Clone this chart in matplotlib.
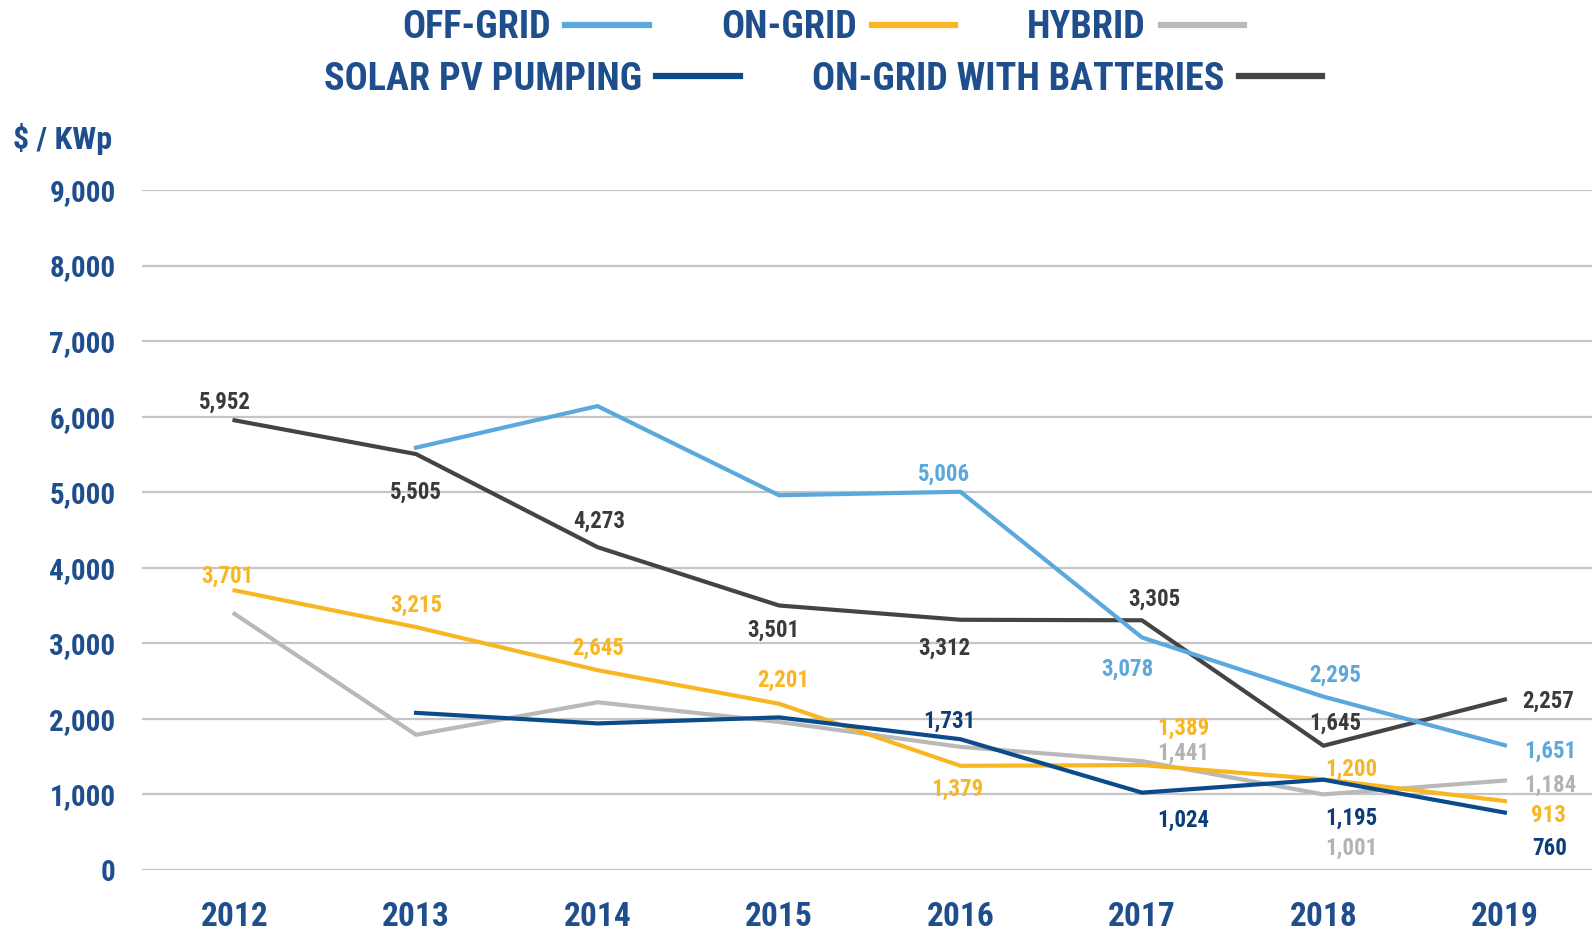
import matplotlib
matplotlib.use('Agg')
import matplotlib.pyplot as plt
from matplotlib import font_manager

# condensed bold face if one is there, else plain DejaVu
names = set(f.name for f in font_manager.fontManager.ttflist)
FONT = 'DejaVu Sans'
for cand in ['Roboto Condensed', 'Liberation Sans Narrow', 'Open Sans Condensed']:
    if cand in names:
        FONT = cand
        break
plt.rcParams['font.family'] = [FONT, 'DejaVu Sans']
plt.rcParams['font.weight'] = 'bold'
plt.rcParams['font.stretch'] = 'condensed'

years = ['2012', '2013', '2014', '2015', '2016', '2017', '2018', '2019']

off_grid = [None, 5590, 6140, 4960, 5006, 3078, 2295, 1651]
on_grid = [3701, 3215, 2645, 2201, 1379, 1389, 1200, 913]
hybrid = [3390, 1790, 2220, 1960, 1630, 1441, 1001, 1184]
pumping = [None, 2080, 1940, 2020, 1731, 1024, 1195, 760]
batteries = [5952, 5505, 4273, 3501, 3312, 3305, 1645, 2257]

# which points get a printed value, and where (dx, dy in px, up is +)
off_grid_lbl = {4: (-16, 17), 5: (-14, -31), 6: (12, 21), 7: (45, -6)}
on_grid_lbl = {0: (-7, 14), 1: (0, 22), 2: (1, 22), 3: (4, 23), 4: (-3, -23),
               5: (41, 36), 6: (27, 10), 7: (43, -14)}
hybrid_lbl = {5: (41, 8), 6: (27, -53), 7: (45, -5)}
pumping_lbl = {4: (-11, 18), 5: (41, -27), 6: (27, -38), 7: (44, -35)}
batteries_lbl = {0: (-10, 18), 1: (0, -38), 2: (2, 26), 3: (-6, -24), 4: (-16, -28),
                 5: (12, 21), 6: (12, 22), 7: (43, -2)}

c_off = '#5BA8DD'
c_on = '#F8B722'
c_hyb = '#B9B9B9'
c_pump = '#0B4A8B'
c_bat = '#444444'
c_txt = '#1F4E8C'

fig = plt.figure(figsize=(15.92, 9.30), dpi=100)
ax = fig.add_axes([0.0892, 0.0645, 0.9108, 0.7312])

x = list(range(len(years)))
series = [
    ('OFF-GRID', off_grid, c_off, off_grid_lbl, c_off),
    ('ON-GRID', on_grid, c_on, on_grid_lbl, c_on),
    ('HYBRID', hybrid, c_hyb, hybrid_lbl, '#B3B3B3'),
    ('SOLAR PV PUMPING', pumping, c_pump, pumping_lbl, '#0C3D78'),
    ('ON-GRID WITH BATTERIES', batteries, c_bat, batteries_lbl, '#3A3A3A'),
]
zorders = {'HYBRID': 2, 'ON-GRID': 3, 'SOLAR PV PUMPING': 4, 'OFF-GRID': 5, 'ON-GRID WITH BATTERIES': 3}
handles = {}
for name, vals, col, lbls, tcol in series:
    xs = [i for i, v in zip(x, vals) if v is not None]
    ys = [v for v in vals if v is not None]
    ln, = ax.plot(xs, ys, color=col, lw=3.0, label=name, zorder=zorders[name])
    handles[name] = ln
    for i, (dx, dy) in lbls.items():
        ax.annotate(f'{vals[i]:,}', (i, vals[i]), xytext=(dx * 0.731, dy * 0.731),
                    textcoords='offset points', ha='center', va='center',
                    fontsize=16.5, color=tcol, fontweight='bold', zorder=6)

ax.set_xlim(-0.51, 7.48)
ax.set_ylim(0, 9000)
ax.set_yticks(range(0, 9001, 1000))
ax.set_yticklabels([f'{v:,}' for v in range(0, 9001, 1000)])
ax.set_xticks(x)
ax.set_xticklabels(years)
ax.grid(axis='y', color='#C6C6C6', lw=1.6, zorder=0)
ax.set_axisbelow(True)
for s in ax.spines.values():
    s.set_visible(False)
ax.tick_params(axis='y', length=0, pad=19, labelsize=21, labelcolor=c_txt)
ax.tick_params(axis='x', length=0, pad=22, labelsize=24, labelcolor=c_txt)

fig.text(0.008, 0.851, '$ / KWp', fontsize=23, color=c_txt, fontweight='bold',
         ha='left', va='center')

# legend, text before the line sample, two rows
leg_kw = dict(loc='center', frameon=False, markerfirst=False, fontsize=27.5,
              handlelength=2.18, handletextpad=0.38, columnspacing=1.9,
              borderpad=0, borderaxespad=0)
row1 = ['OFF-GRID', 'ON-GRID', 'HYBRID']
row2 = ['SOLAR PV PUMPING', 'ON-GRID WITH BATTERIES']
leg1 = fig.legend([handles[n] for n in row1], row1, ncol=3,
                  bbox_to_anchor=(0.517, 0.970), **leg_kw)
leg2 = fig.legend([handles[n] for n in row2], row2, ncol=2,
                  bbox_to_anchor=(0.517, 0.915), **leg_kw)
for lg in (leg1, leg2):
    for t in lg.get_texts():
        t.set_color(c_txt)
    for h in lg.legend_handles:
        h.set_linewidth(4.5)

fig.savefig('out.png', dpi=100)
